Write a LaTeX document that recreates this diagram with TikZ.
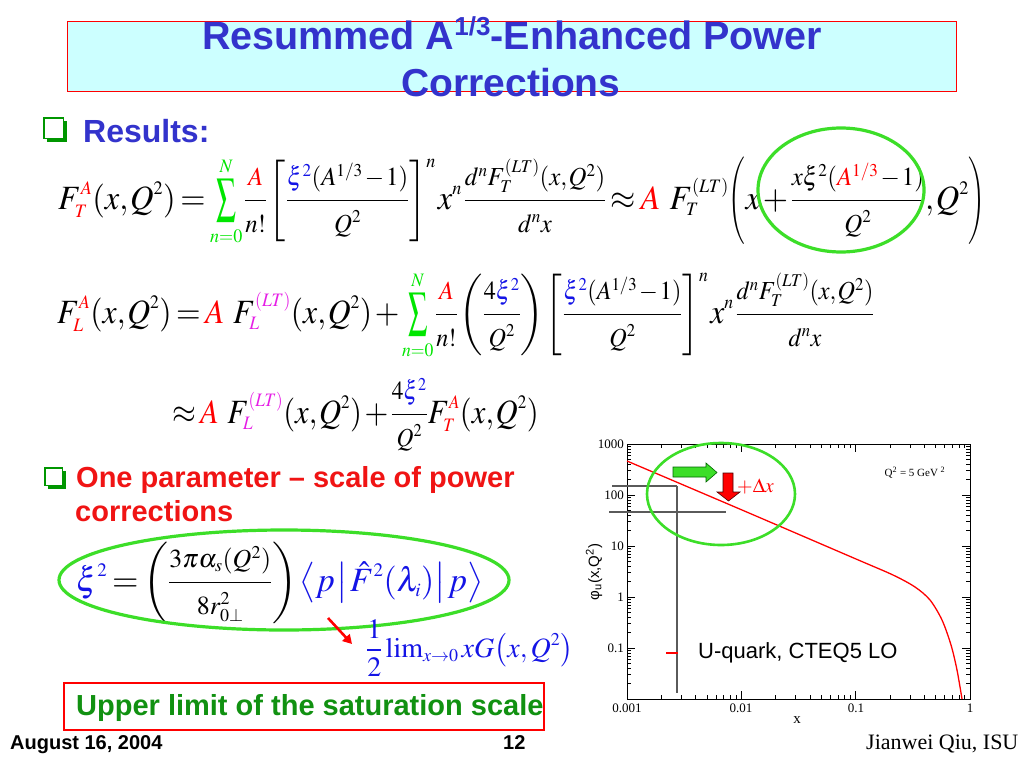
\documentclass[tikz,border=0pt]{standalone}
\usepackage{amsmath}
\usepackage{mathptmx}
\usepackage[no-math]{fontspec}
\usepackage{graphicx}
\newfontfamily\arial{Liberation Sans}
\newfontfamily\tms{Liberation Serif}
\usetikzlibrary{arrows.meta}
\DeclareMathSizes{34}{34}{19}{14}
\DeclareMathSizes{26}{26}{18}{13}
\DeclareMathSizes{28}{28}{18}{13}
\DeclareMathSizes{20}{20}{14}{10}
\definecolor{tblue}{RGB}{51,51,204}
\definecolor{boxcyan}{RGB}{204,255,255}
\definecolor{elgreen}{RGB}{60,222,40}
\definecolor{ngreen}{RGB}{0,230,0}
\definecolor{xiblue}{RGB}{20,20,230}
\definecolor{mag}{RGB}{230,30,230}
\definecolor{dgreen}{RGB}{17,145,17}
\definecolor{cbgreen}{RGB}{0,150,0}
\definecolor{pred}{RGB}{240,20,20}
\definecolor{cgray}{RGB}{90,90,90}
\newcommand\fr[2]{\frac{\mbox{\fontsize{26}{28}\selectfont$#1$}}{\mbox{\fontsize{26}{28}\selectfont$#2$}}}
\newcommand\mbg{\fontsize{34}{40}\selectfont\thinmuskip=1mu\medmuskip=1.5mu\thickmuskip=2.5mu}
\newcommand\Sum{\mathop{\vcenter{\hbox{\scalebox{0.6}[1.02]{$\displaystyle\sum$}}}}\limits}
\newcommand\lpar{\mathopen{\vcenter{\hbox{\scalebox{0.7}[1.07]{$\biggl($}}}}}
\newcommand\rpar{\mathclose{\vcenter{\hbox{\scalebox{0.7}[1.07]{$\biggr)$}}}}}
\newcommand\gap{\mkern5mu}
\begin{document}
\begin{tikzpicture}[x=1pt,y=-1pt,
  formula/.style={anchor=base west,inner sep=0pt},
  txt/.style={anchor=base west,inner sep=0pt},
  hl/.style={draw=elgreen,line width=3.2pt},
  axisline/.style={draw=black,line width=1pt},
  tick/.style={draw=black,line width=0.8pt},
  ticklbl/.style={inner sep=0pt,font=\tms\fontsize{13}{14}\selectfont},
  cross/.style={draw=cgray,line width=1.2pt},
  curve/.style={draw=red,line width=1.3pt},
  cbox/.style={draw=cbgreen,line width=1.3pt,fill=white}]
\useasboundingbox (0,0) rectangle (1024,768);
\fill[white] (0,0) rectangle (1024,768);
% title
\draw[draw=red,fill=boxcyan,line width=0.8pt] (67,21) rectangle (956,91);
\node[anchor=base,inner sep=0pt,text=tblue] (t1) at (512,49) {\arial\bfseries\fontsize{39.5}{42}\selectfont Resummed A\raisebox{0.33em}{\fontsize{26}{28}\selectfont 1/3}-Enhanced Power};
\node[anchor=base,inner sep=0pt,text=tblue] (t2) at (511,96) {\arial\bfseries\fontsize{39}{42}\selectfont Corrections};
% results bullet
\fill[cbgreen] (47,121) rectangle (67,142);
\draw[cbox] (44,118) rectangle (63.5,138.5);
\node[txt,text=tblue] (res) at (83,142) {\arial\bfseries\fontsize{32}{36}\selectfont Results:};
% formula 1
\node[formula] (f1) at (58,209) {\mbg\scalebox{0.955}[1]{$\displaystyle F_T^{\color{red}A}(x,Q^2)=\Sum_{n=0}^{\color{ngreen}N}\fr{\color{red}A}{n!}\left[\fr{{\color{xiblue}\xi^2}(A^{1/3}-1)}{Q^2}\right]^n x^n\,\fr{d^nF_T^{(LT)}(x,Q^2)}{d^nx}\approx{\color{red}A}\gap F_T^{(LT)}\lpar x+\fr{x\xi^2({\color{red}A^{1/3}}-1)}{Q^2},Q^2\rpar$}};
\draw[hl] (841,190) ellipse [x radius=83pt, y radius=62pt];
% formula 2
\node[formula] (f2) at (57,323) {\mbg\scalebox{0.93}[1]{$\displaystyle F_L^{\color{red}A}(x,Q^2)={\color{red}A}\gap F_L^{\color{mag}(LT)}(x,Q^2)+\Sum_{n=0}^{\color{ngreen}N}\fr{\color{red}A}{n!}\left(\fr{4{\color{xiblue}\xi^2}}{Q^2}\right)\left[\fr{{\color{xiblue}\xi^2}(A^{1/3}-1)}{Q^2}\right]^n x^n\,\fr{d^nF_T^{(LT)}(x,Q^2)}{d^nx}$}};
% formula 3
\node[formula] (f3) at (172,423) {\mbg\scalebox{0.9}[1]{$\displaystyle \approx{\color{red}A}\gap F_L^{\color{mag}(LT)}(x,Q^2)+\fr{4{\color{xiblue}\xi^2}}{Q^2}F_T^{\color{red}A}(x,Q^2)$}};
% one parameter
\fill[cbgreen] (48,471) rectangle (66,489);
\draw[cbox] (45,468) rectangle (62.5,485.5);
\node[txt,text=pred] (op1) at (76,487) {\arial\bfseries\fontsize{29}{34}\selectfont One parameter – scale of power};
\node[txt,text=pred] (op2) at (75,521) {\arial\bfseries\fontsize{29}{34}\selectfont corrections};
% xi formula
\node[formula] (f4) at (76,591) {\mbg$\displaystyle {\color{xiblue}\xi^2}=\left(\fr{3\pi\alpha_s(Q^2)}{8r_{0\perp}^2}\right){\color{xiblue}\left\langle p\,\middle|\,\hat F^2(\lambda_i)\middle|\,p\right\rangle}$};
\draw[hl] (284,580) ellipse [x radius=225pt, y radius=50pt];
\node[formula] (f5) at (366,657) {\fontsize{28}{30}\selectfont\color{xiblue}$\displaystyle\frac{1}{2}\lim\nolimits_{x\to0}xG\bigl(x,Q^2\bigr)$};
\coordinate (arA) at (328,618);
\coordinate (arB) at (352,644);
\draw[draw=red,line width=2.6pt,-{Triangle[length=9pt,width=10pt]}] (arA) -- (arB);
% upper limit box
\draw[draw=red,line width=1.3pt] (64,683) rectangle (544,730);
\node[txt,text=dgreen] (ul) at (76,715) {\arial\bfseries\fontsize{29}{30}\selectfont Upper limit of the saturation scale};
% footer
\node[txt] (fd) at (10,749) {\arial\bfseries\fontsize{20}{22}\selectfont August 16, 2004};
\node[txt] (fp) at (503,749) {\arial\bfseries\fontsize{20}{22}\selectfont 12};
\node[txt] (fa) at (866,749) {\tms\fontsize{22}{24}\selectfont Jianwei Qiu, ISU};
% plot frame and ticks
\draw[axisline] (627,444) rectangle (970,699);
\foreach \d in {0,...,3} {
  \pgfmathsetmacro\xx{627+114.33*\d}
  \draw[tick] (\xx,699) -- (\xx,691);
  \draw[tick] (\xx,444) -- (\xx,452);
}
\foreach \d in {0,1,2} \foreach \k in {2,...,9} {
  \pgfmathsetmacro\xx{627+114.33*(\d+log10(\k))}
  \draw[tick] (\xx,699) -- (\xx,695);
  \draw[tick] (\xx,444) -- (\xx,448);
}
\foreach \d in {0,...,5} {
  \pgfmathsetmacro\yy{699-51*\d}
  \draw[tick] (627,\yy) -- (635,\yy);
  \draw[tick] (970,\yy) -- (962,\yy);
}
\foreach \d in {0,...,4} \foreach \k in {2,...,9} {
  \pgfmathsetmacro\yy{699-51*(\d+log10(\k))}
  \draw[tick] (627,\yy) -- (631,\yy);
  \draw[tick] (970,\yy) -- (966,\yy);
}
\node[ticklbl,anchor=east] (y1000) at (624,444) {1000};
\node[ticklbl,anchor=east] (y100) at (624,495) {100};
\node[ticklbl,anchor=east] (y10) at (624,546) {10};
\node[ticklbl,anchor=east] (y1) at (624,597) {1};
\node[ticklbl,anchor=east] (y01) at (624,648) {0.1};
\node[ticklbl] (x0001) at (627,708) {0.001};
\node[ticklbl] (x001) at (741,708) {0.01};
\node[ticklbl] (x01) at (856,708) {0.1};
\node[ticklbl] (x1) at (970,708) {1};
\node[inner sep=0pt,font=\tms\fontsize{15}{16}\selectfont] (xlab) at (797,720) {x};
\node[inner sep=0pt,rotate=90,font=\arial\fontsize{15}{16}\selectfont] (ylab) at (594,572) {φ\textsubscript{u}(x,Q\textsuperscript{2})};
\node[inner sep=0pt,font=\tms\fontsize{11}{12}\selectfont] (qlab) at (915,473) {Q\textsuperscript{2} = 5 GeV \textsuperscript{2}};
% curve
\draw[curve] plot[smooth,tension=0.5] coordinates {(627,461) (742,510) (856,559) (893,575) (915,587) (930,600) (942,620) (951,645) (957,670) (962,699)};
% cross hair
\coordinate (h1a) at (612,486); \coordinate (h1b) at (677,486);
\coordinate (h2a) at (609,512); \coordinate (h2b) at (726,512);
\coordinate (v1a) at (677,486); \coordinate (v1b) at (677,693);
\draw[cross] (h1a) -- (h1b);
\draw[cross] (h2a) -- (h2b);
\draw[cross] (v1a) -- (v1b);
% legend
\coordinate (lgA) at (666,653); \coordinate (lgB) at (678,653);
\draw[curve] (lgA) -- (lgB);
\node[txt] (lg) at (698,658) {\arial\fontsize{22}{24}\selectfont U-quark, CTEQ5 LO};
% plot highlight
\draw[hl,line width=2.6pt] (721,494) ellipse [x radius=74pt, y radius=51pt];
\draw[fill=elgreen,draw=black!60!green,line width=0.6pt] (673,467) -- (706,467) -- (706,463) -- (717,472.5) -- (706,482) -- (706,477) -- (673,477) -- cycle;
\draw[fill=red,draw=black!70!red,line width=0.6pt] (723,473) -- (733,473) -- (733,492) -- (740,492) -- (728.5,501) -- (717,492) -- (723,492) -- cycle;
\node[txt,text=red] (dx) at (737,492) {\fontsize{20}{22}\selectfont$+\Delta x$};
\end{tikzpicture}
\end{document}
